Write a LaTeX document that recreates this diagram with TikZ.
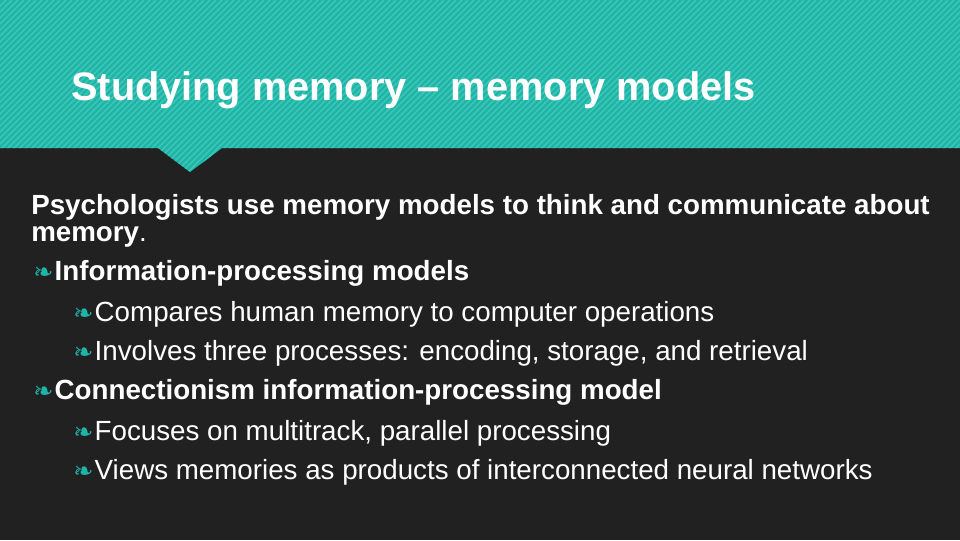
\documentclass[tikz,border=0pt]{standalone}
\usepackage{fontspec}
\setmainfont{Liberation Sans}
\newfontfamily\symfont{DejaVu Sans}
\definecolor{bgdark}{HTML}{212121}
\definecolor{teal}{HTML}{1EB5A7}
\definecolor{tealstripe}{HTML}{3CC6B8}
\tikzset{
  txt/.style={anchor=base west, text=white, inner sep=0pt, font=\fontsize{20.8}{22}\selectfont},
  head/.style={txt, font=\bfseries\fontsize{20.8}{22}\selectfont},
  title/.style={anchor=base west, text=white, inner sep=0pt, font=\bfseries\fontsize{29.8}{32}\selectfont}
}
\newcommand{\leaf}{{\color{teal}\symfont\fontsize{18}{18}\selectfont ❧}\kern1pt}
\begin{document}
\begin{tikzpicture}[x=0.75pt,y=-0.75pt]
    \useasboundingbox (0,0) rectangle (960,540);
    \fill[bgdark] (0,0) rectangle (960,540);
    % striped header with notch
    \begin{scope}
      \clip (0,0) -- (960,0) -- (960,148) -- (222,148) -- (190,172) -- (158,148) -- (0,148) -- cycle;
      \fill[teal] (0,0) rectangle (960,172);
      \foreach \s in {0,6,...,1150}
        \draw[tealstripe, line width=1.2pt] (\s,0) -- (\s-180,180);
    \end{scope}
    \node[title] (ttl) at (71,100) {Studying memory – memory models};
    % body
    \node[head] (intro) at (31,214) {Psychologists use memory models to think and communicate about};
    \node[head] (intro2) at (31,241) {memory\textmd{.}};
    \node[head] (ip) at (33,280) {\leaf Information-processing models};
    \node[txt] (ipa) at (73,321) {\leaf Compares human memory to computer operations};
    \node[txt] (ipb) at (73,360) {\leaf Involves three processes: encoding, storage, and retrieval};
    \node[head] (cn) at (33,399) {\leaf Connectionism information-processing model};
    \node[txt] (cna) at (73,440) {\leaf Focuses on multitrack, parallel processing};
    \node[txt] (cnb) at (73,479) {\leaf Views memories as products of interconnected neural networks};
\end{tikzpicture}
\end{document}
